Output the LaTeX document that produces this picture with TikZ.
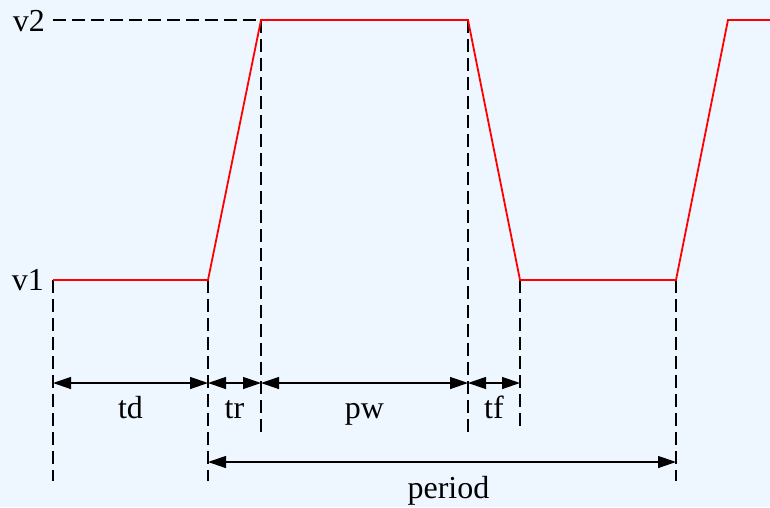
\documentclass[tikz,border=0pt]{standalone}
\usepackage{fontspec}
\setmainfont{Liberation Serif}
\usetikzlibrary{arrows.meta}
\definecolor{bgc}{HTML}{EEF7FF}
\definecolor{sig}{HTML}{FF0000}
\tikzset{
  signal/.style={draw=sig, line width=1.8pt, line join=miter},
  guide/.style={draw=black, line width=1.3pt, dash pattern=on 13pt off 6pt},
  dim/.style={draw=black, line width=1.3pt, {Triangle[length=18pt,width=12pt]}-{Triangle[length=18pt,width=12pt]}},
  lbl/.style={font=\fontsize{32}{38}\selectfont, inner sep=0pt, anchor=base}
}
\begin{document}
\begin{tikzpicture}[x=1pt,y=-1pt]
\fill[bgc] (0,0) rectangle (770,507);
\useasboundingbox (0,0) rectangle (770,507);
% waveform points
\coordinate (p0) at (53,280);
\coordinate (p1) at (208,280);
\coordinate (p2) at (261,20);
\coordinate (p3) at (468,20);
\coordinate (p4) at (520,280);
\coordinate (p5) at (676,280);
\coordinate (p6) at (728,20);
\coordinate (p7) at (772,20);
\coordinate (h2) at (53,20);
% guide ends
\coordinate (g0) at (53,481);
\coordinate (g1) at (208,481);
\coordinate (g2) at (261,432);
\coordinate (g3) at (468,432);
\coordinate (g4) at (520,432);
\coordinate (g5) at (676,481);
% arrow ends
\coordinate (a0) at (53,383);
\coordinate (a1) at (208,383);
\coordinate (a2) at (261,383);
\coordinate (a3) at (468,383);
\coordinate (a4) at (520,383);
\coordinate (b1) at (208,462);
\coordinate (b5) at (676,462);
% guides
\draw[guide] (h2) -- (p2);
\draw[guide] (p0) -- (g0);
\draw[guide] (p1) -- (g1);
\draw[guide] (p2) -- (g2);
\draw[guide] (p3) -- (g3);
\draw[guide] (p4) -- (g4);
\draw[guide] (p5) -- (g5);
% signal
\draw[signal] (p0) -- (p1) -- (p2) -- (p3) -- (p4) -- (p5) -- (p6) -- (p7);
% dimensions
\draw[dim] (a0) -- (a1);
\draw[dim] (a1) -- (a2);
\draw[dim] (a2) -- (a3);
\draw[dim] (a3) -- (a4);
\draw[dim] (b1) -- (b5);
% labels
\node[lbl, anchor=base east] (v2) at (45,31) {v2};
\node[lbl, anchor=base east] (v1) at (44,290) {v1};
\node[lbl] (td) at (130.5,418) {td};
\node[lbl] (tr) at (234.5,418) {tr};
\node[lbl] (pw) at (364.5,418) {pw};
\node[lbl] (tf) at (494,418) {tf};
\node[lbl] (per) at (448.5,498) {period};
\end{tikzpicture}
\end{document}
